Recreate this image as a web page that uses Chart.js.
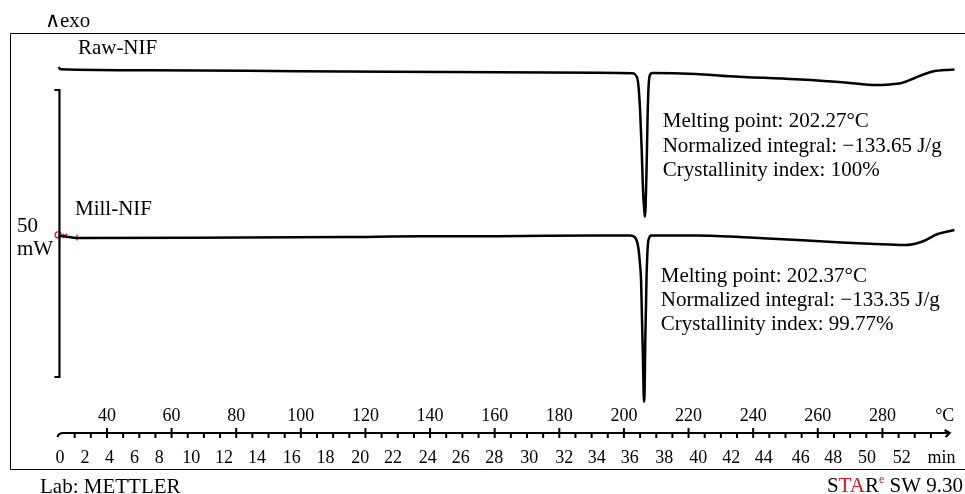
<!DOCTYPE html>
<html><head><meta charset="utf-8">
<script src="https://cdn.jsdelivr.net/npm/chart.js@4.4.1/dist/chart.umd.min.js"></script>
<style>html,body{margin:0;padding:0;background:#fff;}#wrap{width:965px;height:494px;position:relative;}</style>
</head><body><div id="wrap"><canvas id="c" width="965" height="494"></canvas></div>
<script>
// ---- data (temperature in °C, heat flow in mW with display offset) ----
const rawTemp = [25.0, 25.6, 53.15, 99.3, 145.5, 191.6, 202.7, 203.6, 204.4, 205.0, 205.5, 205.9, 206.3, 206.5, 206.7, 207.0, 207.3, 207.6, 208.0, 208.8, 222.3, 232.5, 253.1, 268.5, 276.8, 282.3, 286.0, 290.0, 293.1, 296.2, 299.2, 302.3];
const rawFlow = [54.01, 53.61, 53.43, 53.28, 53.14, 53.00, 52.91, 52.61, 51.22, 46.52, 39.55, 32.58, 29.09, 27.93, 29.44, 36.06, 44.77, 50.35, 52.53, 52.96, 52.79, 52.40, 51.86, 51.31, 50.87, 50.96, 51.22, 52.09, 52.79, 53.31, 53.48, 53.57];
const millTemp = [25.0, 26.1, 31.2, 66.7, 114.1, 137.6, 160.8, 191.6, 201.8, 203.3, 204.4, 205.0, 205.3, 205.6, 205.9, 206.2, 206.4, 206.6, 207.0, 207.4, 207.8, 208.5, 222.3, 243.0, 263.3, 277.7, 287.0, 292.2, 297.1, 302.3];
const millFlow = [24.65, 24.56, 24.22, 24.25, 24.39, 24.53, 24.53, 24.65, 24.65, 24.39, 22.70, 19.51, 16.90, 9.93, 2.96, -4.30, -2.26, 5.92, 17.47, 22.99, 24.22, 24.65, 24.65, 24.16, 23.57, 23.17, 23.00, 23.57, 24.91, 25.61];
const markTemp = [24.9, 27.0, 30.7];
const markFlow = [24.75, 24.6, 24.3];
const tempTickLabels = [40, 60, 80, 100, 120, 140, 160, 180, 200, 220, 240, 260, 280];
const minTickLabels = [0, 2, 4, 6, 8, 10, 12, 14, 16, 18, 20, 22, 24, 26, 28, 30, 32, 34, 36, 38, 40, 42, 44, 46, 48, 50, 52];
const minTickAtTemp = [25.5, 33.2, 40.8, 48.5, 56.2, 66.1, 76.2, 86.4, 97.2, 107.6, 118.4, 128.5, 139.3, 149.5, 159.9, 170.7, 181.5, 191.6, 201.8, 212.5, 223.0, 233.2, 243.3, 254.7, 264.8, 275.2, 286.0];
const seriesNames = ['Raw-NIF', 'Mill-NIF'];
const rawInfo = ['Melting point: 202.27°C', 'Normalized integral: \u2212133.65 J/g', 'Crystallinity index: 100%'];
const millInfo = ['Melting point: 202.37°C', 'Normalized integral: \u2212133.35 J/g', 'Crystallinity index: 99.77%'];
const scaleBarMW = 50;

const FONT = '"Liberation Serif", "DejaVu Serif", serif';
const pts = (xs, ys) => xs.map((x, i) => ({x: x, y: ys[i]}));

const deco = {
  id: 'deco',
  beforeDraw(chart) {
    const c = chart.ctx; c.save(); c.fillStyle = '#fff'; c.fillRect(0, 0, chart.width, chart.height); c.restore();
  },
  afterDatasetsDraw(chart) {
    const c = chart.ctx, xs = chart.scales.x, ys = chart.scales.y;
    const X = v => xs.getPixelForValue(v), Y = v => ys.getPixelForValue(v);
    c.save();
    c.strokeStyle = '#000'; c.fillStyle = '#000';
    // frame
    c.lineWidth = 1;
    c.beginPath(); c.moveTo(965, 33.5); c.lineTo(10.5, 33.5); c.lineTo(10.5, 469.5); c.lineTo(965, 469.5); c.stroke();
    // scale bar
    const bx = X(25.3), b0 = Y(0), b1 = Y(scaleBarMW);
    c.lineWidth = 2.2;
    c.beginPath(); c.moveTo(bx - 5, b1); c.lineTo(bx, b1); c.lineTo(bx, b0); c.lineTo(bx - 5, b0); c.stroke();
    // bottom axis
    const ay = 433;
    const x0 = X(25), xe = X(300.8);
    c.lineWidth = 2.2;
    c.beginPath(); c.moveTo(x0 - 1, ay + 4); c.quadraticCurveTo(x0, ay, x0 + 5, ay); c.lineTo(xe, ay); c.stroke();
    c.beginPath(); c.moveTo(xe - 5, ay - 3); c.lineTo(xe, ay); c.lineTo(xe - 4, ay + 4); c.stroke();
    c.lineWidth = 2;
    for (let t = 30; t <= 295; t += 5) {
      const px = X(t), major = (t % 20 === 0);
      c.beginPath(); c.moveTo(px, major ? ay - 5 : ay - 1); c.lineTo(px, ay + 5); c.stroke();
    }
    c.font = '18px ' + FONT; c.textAlign = 'center'; c.textBaseline = 'alphabetic';
    tempTickLabels.forEach(t => c.fillText(String(t), X(t), 420.7));
    c.fillText('°C', X(299.3), 420.7);
    minTickLabels.forEach((m, i) => c.fillText(String(m), X(minTickAtTemp[i]), 463.3));
    c.fillText('min', X(298.3), 463.3);
    // texts
    c.textAlign = 'left';
    c.font = '21px "DejaVu Serif", serif';
    c.fillText('\u2227', 45, 27.3);
    c.font = '21px ' + FONT;
    c.fillText('exo', 60, 27.3);
    c.fillText(seriesNames[0], X(31.0), Y(56.27));
    c.fillText(seriesNames[1], X(30.1), Y(28.22));
    c.fillText('50', 17, 231.7);
    c.fillText('mW', 17, 255);
    const rY = [43.55, 39.25, 35.02], mY = [16.60, 12.37, 8.19];
    rawInfo.forEach((s, i) => c.fillText(s, X(212.0), Y(rY[i])));
    millInfo.forEach((s, i) => c.fillText(s, X(211.4), Y(mY[i])));
    c.fillText('Lab: METTLER', 40, 492.5);
    // STARe SW 9.30 (right aligned at 963)
    const parts = [['S', '#000', 21, 0], ['TA', '#e8141b', 21, 0], ['R', '#000', 21, 0], ['e', '#e8141b', 12, -9], [' SW 9.30', '#000', 21, 0]];
    let total = 0;
    parts.forEach(p => { c.font = p[2] + 'px ' + FONT; total += c.measureText(p[0]).width; });
    let px = 963 - total;
    parts.forEach(p => { c.font = p[2] + 'px ' + FONT; c.fillStyle = p[1]; c.fillText(p[0], px, 491.7 + p[3]); px += c.measureText(p[0]).width; });
    c.restore();
  }
};

new Chart(document.getElementById('c'), {
  type: 'line',
  data: {
    datasets: [
      {label: seriesNames[0], data: pts(rawTemp, rawFlow), borderColor: '#000', borderWidth: 2.5, pointRadius: 0, cubicInterpolationMode: 'monotone', fill: false},
      {label: seriesNames[1], data: pts(millTemp, millFlow), borderColor: '#000', borderWidth: 2.5, pointRadius: 0, cubicInterpolationMode: 'monotone', fill: false},
      {label: 'marks', data: pts(markTemp, markFlow), showLine: false, pointStyle: ['circle', 'crossRot', 'line'], rotation: [0, 0, 90], pointRadius: 3, borderColor: '#e8141b', borderWidth: 1.3, backgroundColor: 'rgba(0,0,0,0)'}
    ]
  },
  options: {
    responsive: false, animation: false, devicePixelRatio: 1,
    layout: {padding: {left: 58.5, right: 0, top: 33.5, bottom: 24.5}},
    plugins: {legend: {display: false}, tooltip: {enabled: false}},
    scales: {
      x: {type: 'linear', min: 25, max: 303.92, display: false},
      y: {type: 'linear', min: -16.11, max: 59.84, display: false}
    },
    clip: false
  },
  plugins: [deco]
});
</script></body></html>
